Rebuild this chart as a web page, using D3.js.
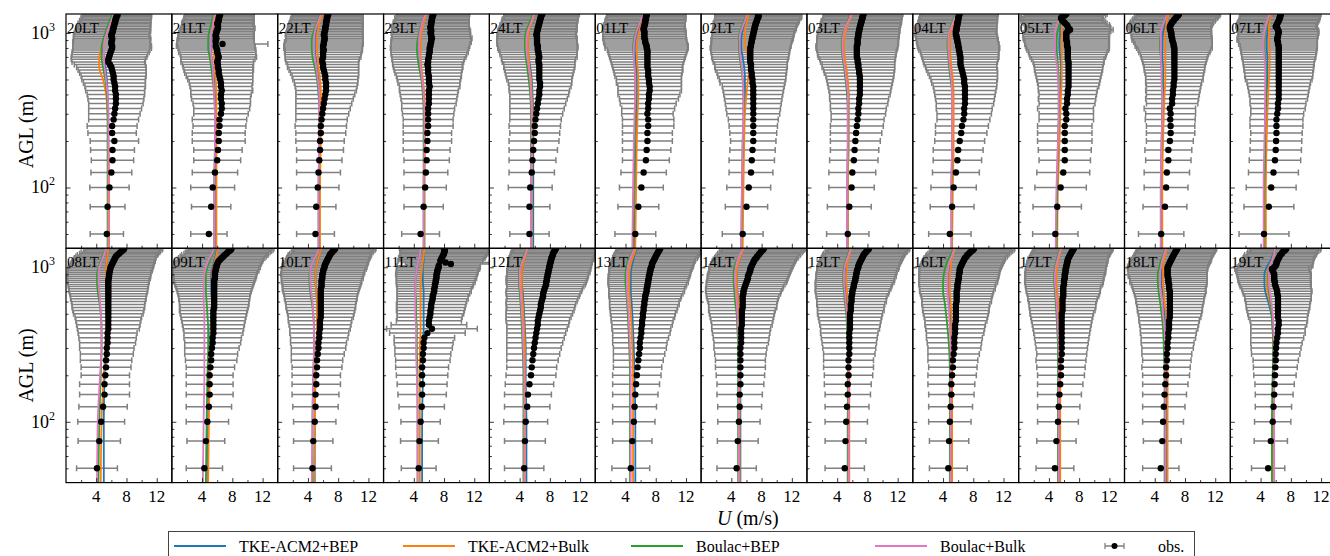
<!DOCTYPE html>
<html>
<head>
<meta charset="utf-8">
<script src="https://cdn.jsdelivr.net/npm/d3@7"></script>
<style>
body { margin: 0; background: #fff; }
svg text { font-family: "Liberation Serif", "Times New Roman", serif; fill: #000; }
</style>
</head>
<body>
<svg id="chart" width="1330" height="556"></svg>
<script>
// panel titles (local time)
let hours = ["20LT","21LT","22LT","23LT","24LT","01LT","02LT","03LT","04LT","05LT","06LT","07LT",
             "08LT","09LT","10LT","11LT","12LT","13LT","14LT","15LT","16LT","17LT","18LT","19LT"]

// observation levels (m AGL)
let obsHeights = [50,75,100,125,150,175,200,225,250,275,300,325,350,375,400,425,450,475,500,525,
                  550,575,600,625,650,675,700,725,750,775,800,825,850,875,900,925,950,975,1000,1025,
                  1050,1075,1100,1125,1150,1175,1200,1225,1250,1275,1300,1325]

// observed mean wind speed (m/s), one row per panel
let obsMean = [
 [5.4,5.5,5.75,6.0,6.15,6.15,6.4,6.1,6.1,6.3, 6.4,6.5,6.6,6.6,6.6,6.5,6.5,6.4,6.3,6.3, 6.2,6.1,6.0,5.8,5.6,5.6,5.7,5.8,5.9,6.0, 6.1,6.1,6.0,6.0,6.1,6.1,6.0,6.0,6.1,6.2, 6.2,6.3,6.3,6.4,6.4,6.5,6.5,6.6,6.6,6.7, 6.8,6.8],
 [4.9,5.2,5.4,5.7,6.0,6.1,6.2,6.2,6.3,6.3, 6.5,6.6,6.6,6.5,6.5,6.6,6.5,6.5,6.4,6.3, 6.2,6.2,6.1,6.1,6.0,6.1,6.2,6.1,6.0,6.0, 5.9,5.8,6.7,5.8,5.8,5.9,5.8,5.8,5.9,5.9, 6.0,6.1,6.1,6.1,6.0,6.1,6.2,6.2,6.2,6.3, 6.3,6.4],
 [5.0,5.1,5.3,5.4,5.5,5.6,5.6,5.7,5.7,5.8, 5.9,6.0,6.1,6.2,6.3,6.4,6.4,6.4,6.3,6.3, 6.2,6.1,6.0,6.0,5.9,5.9,6.0,6.0,6.0,6.1, 6.0,6.0,6.1,6.1,6.2,6.2,6.2,6.1,6.2,6.2, 6.3,6.3,6.3,6.4,6.4,6.4,6.5,6.5,6.5,6.6, 6.6,6.7],
 [4.9,5.3,5.5,5.6,5.7,5.7,5.8,5.8,5.9,5.9, 5.9,5.9,6.0,6.0,6.0,6.0,6.1,6.0,6.0,6.0, 5.9,5.9,5.9,5.8,5.9,5.9,6.0,6.0,6.1,6.1, 6.1,6.2,6.2,6.3,6.3,6.4,6.3,6.3,6.2,6.3, 6.3,6.2,6.2,6.3,6.3,6.3,6.4,6.4,6.4,6.5, 6.5,6.6],
 [5.3,5.3,5.4,5.6,5.7,5.8,5.9,6.0,6.0,6.1, 6.2,6.3,6.4,6.5,6.6,6.6,6.7,6.7,6.6,6.6, 6.6,6.6,6.6,6.6,6.5,6.5,6.6,6.5,6.5,6.4, 6.4,6.4,6.3,6.3,6.3,6.3,6.3,6.2,6.3,6.3, 6.4,6.4,6.5,6.5,6.6,6.6,6.7,6.7,6.8,6.8, 6.9,7.0],
 [5.3,5.7,6.1,6.4,6.7,6.8,6.9,6.9,7.0,7.0, 6.9,7.0,7.0,7.1,7.1,7.2,7.2,7.1,7.1,7.0, 7.0,7.0,6.9,6.9,6.9,6.9,6.9,6.9,6.9,6.9, 6.8,6.8,6.7,6.6,6.6,6.5,6.5,6.5,6.5,6.5, 6.4,6.4,6.5,6.5,6.6,6.6,6.6,6.7,6.7,6.7, 6.8,6.8],
 [5.5,6.0,6.3,6.6,6.7,6.8,6.9,6.9,6.9,6.9, 6.9,6.9,6.9,6.9,6.9,6.9,6.9,6.8,6.8,6.7, 6.7,6.6,6.6,6.6,6.5,6.5,6.5,6.5,6.5,6.5, 6.5,6.6,6.6,6.7,6.7,6.8,6.8,6.9,6.9,7.0, 7.0,7.1,7.1,7.2,7.2,7.3,7.4,7.4,7.5,7.6, 7.6,7.5],
 [5.4,5.6,5.9,6.0,6.2,6.3,6.4,6.5,6.6,6.7, 6.8,6.8,6.9,6.9,7.0,7.0,7.0,7.0,7.0,7.0, 6.9,6.9,6.8,6.8,6.7,6.7,6.6,6.6,6.6,6.6, 6.6,6.6,6.7,6.7,6.7,6.7,6.8,6.8,6.8,6.9, 6.9,7.0,7.0,7.1,7.1,7.2,7.2,7.3,7.3,7.4, 7.4,7.5],
 [4.9,5.2,5.4,5.7,5.9,6.0,6.2,6.4,6.5,6.7, 6.8,6.8,6.9,6.9,6.9,6.9,6.9,6.8,6.8,6.7, 6.6,6.5,6.4,6.3,6.3,6.3,6.3,6.2,6.2,6.1, 6.1,6.0,6.0,5.9,5.9,5.8,5.8,5.7,5.7,5.7, 5.8,5.8,5.8,5.9,5.9,5.9,6.0,6.0,6.0,6.1, 6.1,6.2],
 [4.85,5.1,5.55,5.9,6.1,6.1,6.1,6.1,6.1,6.3, 6.3,6.2,6.4,6.4,6.5,6.5,6.6,6.6,6.6,6.6, 6.6,6.6,6.6,6.6,6.6,6.5,6.5,6.5,6.5,6.5, 6.5,6.4,6.4,6.4,6.3,6.3,6.3,6.3,6.3,6.5, 6.8,6.6,6.5,6.4,6.2,6.0,5.8,5.7,5.6,5.8, 6.1,6.3],
 [4.85,5.35,5.5,5.6,5.8,5.8,6.0,6.1,6.1,6.05, 6.1,6.0,6.3,6.3,6.4,6.4,6.5,6.5,6.6,6.6, 6.6,6.6,6.6,6.6,6.6,6.6,6.6,6.6,6.6,6.6, 6.6,6.5,6.5,6.4,6.3,6.3,6.2,6.2,6.2,6.1, 6.1,6.0,6.0,6.1,6.2,6.3,6.5,6.6,6.8,6.9, 7.1,7.2],
 [4.45,5.1,5.4,5.7,5.9,6.0,6.05,6.1,6.1,6.1, 6.2,6.3,6.3,6.4,6.4,6.4,6.4,6.4,6.4,6.4, 6.4,6.4,6.4,6.4,6.4,6.4,6.4,6.4,6.4,6.4, 6.4,6.4,6.3,6.3,6.2,6.2,6.3,6.3,6.4,6.4, 6.3,6.2,6.0,6.1,6.2,6.3,6.4,6.5,6.5,6.6, 6.6,6.7],
 [4.1,4.4,4.65,4.9,5.1,5.1,5.2,5.3,5.3,5.4, 5.4,5.5,5.5,5.5,5.6,5.6,5.6,5.6,5.6,5.6, 5.6,5.6,5.6,5.6,5.6,5.6,5.6,5.6,5.6,5.6, 5.6,5.6,5.65,5.7,5.7,5.75,5.8,5.85,5.9,6.0, 6.1,6.2,6.3,6.4,6.5,6.6,6.8,7.0,7.2,7.4, 7.6,7.7],
 [4.3,4.5,4.7,4.9,5.0,5.0,5.0,5.1,5.2,5.2, 5.3,5.4,5.4,5.5,5.5,5.5,5.5,5.5,5.5,5.5, 5.6,5.6,5.6,5.6,5.6,5.6,5.6,5.6,5.6,5.6, 5.6,5.6,5.7,5.7,5.7,5.7,5.8,5.8,5.9,5.9, 6.0,6.1,6.2,6.4,6.6,6.8,7.0,7.2,7.4,7.6, 7.8,7.9],
 [4.6,4.7,4.9,5.0,5.0,5.1,5.1,5.2,5.2,5.3, 5.4,5.4,5.5,5.5,5.6,5.6,5.6,5.7,5.7,5.7, 5.7,5.7,5.7,5.7,5.7,5.7,5.7,5.7,5.8,5.8, 5.8,5.8,5.9,5.9,5.9,6.0,6.0,6.1,6.2,6.2, 6.3,6.4,6.5,6.6,6.7,6.8,6.9,7.0,7.2,7.3, 7.5,7.6],
 [4.65,4.75,4.9,5.05,5.1,5.1,5.1,5.1,5.2,5.2, 5.3,5.3,5.4,5.8,6.4,6.0,6.0,6.1,6.2,6.2, 6.3,6.3,6.4,6.5,6.5,6.6,6.7,6.7,6.8,6.8, 6.9,6.9,7.0,7.0,7.0,7.1,7.1,7.2,7.3,7.3, 8.9,8.2,7.5,7.6,7.7,7.8,7.9,8.0,8.0,8.1, 8.1,8.0],
 [4.6,4.7,4.8,5.0,5.1,5.3,5.5,5.6,5.7,5.8, 5.9,6.0,6.1,6.2,6.3,6.4,6.4,6.5,6.6,6.7, 6.8,6.8,6.9,7.0,7.1,7.1,7.2,7.3,7.4,7.5, 7.5,7.6,7.6,7.7,7.7,7.8,7.8,7.9,7.9,8.0, 8.0,8.1,8.1,8.2,8.2,8.3,8.4,8.4,8.5,8.6, 8.7,8.8],
 [4.7,4.9,5.1,5.2,5.3,5.4,5.5,5.6,5.7,5.8, 5.9,5.9,6.0,6.1,6.1,6.2,6.2,6.3,6.3,6.4, 6.4,6.5,6.5,6.6,6.6,6.7,6.8,6.8,6.9,6.9, 7.0,7.0,7.1,7.1,7.2,7.2,7.3,7.3,7.4,7.5, 7.5,7.6,7.7,7.8,7.9,8.0,8.1,8.2,8.3,8.4, 8.5,8.6],
 [4.7,4.85,5.0,5.1,5.1,5.2,5.2,5.2,5.2,5.2, 5.2,5.3,5.3,5.3,5.3,5.4,5.4,5.4,5.4,5.4, 5.5,5.5,5.5,5.5,5.5,5.6,5.6,5.7,5.8,5.9, 6.0,6.1,6.2,6.2,6.3,6.4,6.5,6.5,6.6,6.7, 6.8,6.9,7.0,7.1,7.3,7.4,7.6,7.7,7.9,8.0, 8.2,8.3],
 [5.0,5.1,5.2,5.3,5.4,5.4,5.5,5.5,5.5,5.6, 5.6,5.6,5.6,5.6,5.7,5.7,5.7,5.7,5.7,5.8, 5.8,5.8,5.9,5.9,5.9,6.0,6.0,6.1,6.2,6.2, 6.3,6.4,6.4,6.5,6.5,6.6,6.6,6.7,6.8,6.8, 6.9,7.0,7.1,7.2,7.3,7.4,7.5,7.6,7.8,7.9, 8.1,8.2],
 [4.7,4.8,4.9,5.0,5.1,5.1,5.2,5.3,5.3,5.4, 5.5,5.5,5.5,5.6,5.6,5.6,5.7,5.7,5.7,5.7, 5.7,5.7,5.8,5.8,5.8,5.8,5.8,5.9,5.9,5.9, 6.0,6.0,6.1,6.1,6.1,6.2,6.2,6.2,6.3,6.4, 6.5,6.6,6.7,6.8,6.9,7.1,7.2,7.4,7.6,7.8, 8.0,8.1],
 [4.8,5.0,5.2,5.3,5.4,5.5,5.6,5.6,5.6,5.7, 5.7,5.7,5.7,5.7,5.7,5.7,5.7,5.7,5.7,5.8, 5.8,5.8,5.8,5.8,5.9,5.9,5.9,5.9,5.9,6.0, 6.0,6.0,6.1,6.1,6.1,6.2,6.2,6.2,6.3,6.3, 6.4,6.4,6.5,6.5,6.6,6.7,6.8,6.9,7.0,7.1, 7.2,7.3],
 [4.8,5.0,5.1,5.2,5.3,5.4,5.5,5.5,5.6,5.6, 5.7,5.7,5.8,5.8,5.9,5.9,5.9,6.0,6.0,6.0, 6.0,6.0,6.0,6.0,6.0,6.0,6.0,5.9,5.9,5.9, 5.8,5.8,5.8,5.7,5.7,5.7,5.7,5.7,5.7,5.8, 5.9,6.0,6.1,6.2,6.3,6.4,6.5,6.6,6.7,6.8, 6.9,7.0],
 [5.0,5.35,5.6,5.7,5.8,5.85,5.9,5.95,6.0,6.0, 6.05,6.1,6.2,6.3,6.3,6.4,6.4,6.3,6.3,6.3, 6.3,6.3,6.3,6.3,6.3,6.2,6.2,6.1,6.0,5.9, 5.9,5.8,5.8,5.8,5.8,5.7,5.6,5.5,5.8,6.0, 6.1,6.1,6.2,6.3,6.4,6.5,6.6,6.8,6.9,7.1, 7.3,7.4]
]

// observed standard deviation (m/s), half width of the error bars
let obsStd = [
 [2.2,2.3,2.6,2.7,2.8,2.9,3.2,3.2,3.3,3.3, 3.4,3.5,3.6,3.7,3.8,3.9,4.0,4.1,4.2,4.3, 4.4,4.5,4.6,4.7,4.8,4.9,5.0,5.0,5.1,5.1, 5.2,5.2,5.1,5.1,5.1,5.1,5.0,5.0,5.0,5.0, 4.9,4.9,4.8,4.8,4.8,4.7,4.7,4.6,4.6,4.6, 4.5,4.5],
 [2.4,2.6,2.9,3.0,3.1,3.2,3.5,3.5,3.5,3.6, 3.6,3.7,3.8,3.9,4.0,4.1,4.1,4.2,4.3,4.4, 4.5,4.6,4.6,4.7,4.8,4.9,5.0,5.0,5.1,5.1, 5.1,5.2,6.0,5.1,5.1,5.0,5.0,5.0,5.0,4.9, 4.9,4.9,4.8,4.8,4.7,4.7,4.7,4.6,4.6,4.6, 4.5,4.5],
 [2.5,2.6,2.8,2.9,3.0,3.1,3.2,3.3,3.4,3.4, 3.5,3.6,3.7,3.8,3.9,4.0,4.1,4.2,4.3,4.4, 4.5,4.6,4.7,4.7,4.8,4.9,5.0,5.0,5.1,5.1, 5.2,5.2,5.2,5.2,5.1,5.1,5.1,5.1,5.1,5.0, 5.0,5.0,4.9,4.9,4.9,4.8,4.8,4.8,4.7,4.7, 4.6,4.6],
 [2.5,2.6,2.8,2.9,3.0,3.1,3.2,3.2,3.3,3.3, 3.4,3.5,3.6,3.7,3.8,3.9,4.0,4.1,4.2,4.3, 4.4,4.5,4.6,4.6,4.7,4.8,4.9,5.0,5.1,5.1, 5.2,5.2,5.2,5.3,5.3,5.3,5.2,5.2,5.2,5.2, 5.1,5.1,5.1,5.0,5.0,5.0,4.9,4.9,4.9,4.8, 4.8,4.8],
 [2.6,2.7,2.9,3.0,3.1,3.2,3.3,3.3,3.4,3.4, 3.5,3.6,3.7,3.8,3.9,4.0,4.1,4.2,4.3,4.4, 4.5,4.6,4.7,4.7,4.8,4.9,5.0,5.1,5.1,5.2, 5.3,5.3,5.3,5.3,5.3,5.3,5.2,5.2,5.2,5.2, 5.2,5.1,5.1,5.1,5.0,5.0,5.0,5.0,4.9,4.9, 4.9,4.9],
 [2.7,2.7,2.9,3.0,3.1,3.2,3.3,3.3,3.4,3.4, 3.4,3.5,3.7,3.9,4.1,4.2,4.2,4.3,4.3,4.4, 4.5,4.6,4.6,4.7,4.8,4.9,5.0,5.1,5.2,5.3, 5.5,5.5,5.5,5.5,5.5,5.5,5.5,5.5,5.5,5.5, 5.4,5.4,5.4,5.4,5.3,5.3,5.3,5.3,5.2,5.2, 5.2,5.2],
 [2.7,2.8,2.9,2.9,3.0,3.0,3.0,3.1,3.2,3.3, 3.5,3.6,3.7,3.8,3.9,4.0,4.1,4.3,4.4,4.5, 4.6,4.7,4.8,4.8,4.9,5.0,5.1,5.1,5.2,5.2, 5.3,5.3,5.3,5.3,5.4,5.4,5.4,5.4,5.4,5.4, 5.5,5.5,5.5,5.5,5.6,5.6,5.6,5.6,5.7,5.7, 5.7,5.7],
 [2.8,2.9,3.0,3.1,3.2,3.2,3.3,3.4,3.5,3.5, 3.6,3.7,3.8,3.9,4.0,4.1,4.2,4.3,4.4,4.5, 4.6,4.7,4.8,4.8,4.9,5.0,5.1,5.2,5.2,5.3, 5.4,5.4,5.4,5.4,5.4,5.4,5.4,5.4,5.4,5.4, 5.3,5.3,5.3,5.3,5.3,5.3,5.3,5.2,5.2,5.2, 5.2,5.2],
 [2.8,2.9,3.0,3.1,3.2,3.3,3.3,3.4,3.5,3.5, 3.6,3.7,3.8,3.9,4.0,4.1,4.2,4.3,4.4,4.5, 4.6,4.7,4.7,4.8,4.9,5.0,5.1,5.1,5.2,5.3, 5.4,5.4,5.4,5.4,5.4,5.4,5.4,5.4,5.4,5.3, 5.3,5.3,5.3,5.2,5.2,5.2,5.2,5.2,5.1,5.1, 5.1,5.1],
 [3.0,3.2,3.4,3.5,3.4,3.5,3.6,3.6,3.6,3.6, 3.6,3.7,3.7,3.8,3.8,3.9,4.0,4.1,4.2,4.3, 4.4,4.5,4.5,4.6,4.7,4.8,5.0,5.1,5.2,5.4, 5.5,5.5,5.6,5.6,5.6,5.7,5.7,5.7,5.7,5.7, 5.7,5.6,5.6,5.6,5.5,5.5,5.5,5.4,5.4,5.4, 5.4,5.4],
 [3.0,2.9,2.9,3.0,3.0,3.1,3.1,3.2,3.2,3.3, 3.3,3.4,3.4,3.5,3.5,3.6,3.6,3.7,3.8,3.8, 3.9,4.0,4.0,4.1,4.2,4.3,4.4,4.5,4.7,4.8, 5.0,5.1,5.1,5.2,5.3,5.3,5.3,5.3,5.3,5.4, 5.4,5.4,5.5,5.5,5.5,5.5,5.5,5.5,5.5,5.5, 5.5,5.5],
 [3.3,3.3,3.3,3.3,3.4,3.4,3.4,3.4,3.5,3.5, 3.5,3.6,3.7,3.8,3.9,4.0,4.1,4.2,4.4,4.5, 4.5,4.6,4.6,4.7,4.7,4.8,4.9,4.9,5.0,5.0, 5.1,5.1,5.2,5.2,5.3,5.3,5.3,5.3,5.3,5.3, 5.3,5.3,5.3,5.3,5.3,5.3,5.3,5.3,5.3,5.3, 5.3,5.3],
 [2.7,2.8,3.1,3.2,3.3,3.3,3.2,3.3,3.4,3.5, 3.6,3.7,3.8,3.9,4.1,4.2,4.3,4.4,4.6,4.7, 4.8,4.8,4.9,5.0,5.0,5.1,5.2,5.2,5.3,5.3, 5.4,5.4,5.5,5.5,5.5,5.5,5.6,5.6,5.6,5.6, 5.5,5.5,5.5,5.4,5.4,5.3,5.3,5.2,5.2,5.1, 5.1,5.1],
 [2.4,2.5,2.8,3.0,3.1,3.1,3.1,3.2,3.4,3.5, 3.6,3.7,3.8,3.9,4.0,4.1,4.2,4.3,4.4,4.5, 4.5,4.6,4.6,4.7,4.7,4.8,4.9,5.0,5.1,5.2, 5.3,5.4,5.4,5.5,5.5,5.6,5.7,5.7,5.8,5.8, 5.8,5.8,5.8,5.7,5.7,5.7,5.7,5.6,5.6,5.6, 5.6,5.6],
 [2.5,2.6,2.8,3.0,3.1,3.2,3.2,3.3,3.4,3.5, 3.6,3.7,3.8,3.9,4.0,4.1,4.2,4.3,4.4,4.5, 4.6,4.6,4.7,4.8,4.8,4.9,5.0,5.1,5.1,5.2, 5.3,5.3,5.4,5.4,5.5,5.5,5.5,5.6,5.6,5.6, 5.6,5.6,5.5,5.5,5.5,5.5,5.5,5.4,5.4,5.4, 5.4,5.4],
 [2.3,2.5,2.6,3.0,3.2,3.3,3.4,3.5,3.6,3.7, 3.8,3.9,4.0,5.0,6.0,5.0,4.3,4.3,4.4,4.5, 4.5,4.6,4.6,4.7,4.7,4.8,4.9,4.9,5.0,5.1, 5.2,5.2,5.3,5.3,5.4,5.4,5.4,5.5,5.5,5.5, 6.0,5.8,5.6,5.6,5.7,5.7,5.7,5.8,5.8,5.8, 5.9,5.9],
 [2.6,2.7,2.9,3.0,3.1,3.2,3.3,3.3,3.4,3.5, 3.6,3.7,3.8,3.9,4.0,4.1,4.2,4.3,4.4,4.5, 4.5,4.6,4.7,4.7,4.8,4.9,5.0,5.0,5.1,5.2, 5.3,5.3,5.4,5.4,5.4,5.5,5.5,5.5,5.5,5.5, 5.5,5.5,5.5,5.6,5.6,5.6,5.6,5.6,5.6,5.6, 5.6,5.6],
 [2.5,2.6,2.8,2.9,3.0,3.1,3.2,3.2,3.3,3.4, 3.5,3.6,3.7,3.8,3.9,4.0,4.1,4.2,4.3,4.4, 4.5,4.6,4.6,4.7,4.8,4.9,5.0,5.0,5.1,5.2, 5.3,5.3,5.3,5.4,5.4,5.4,5.4,5.5,5.5,5.5, 5.5,5.5,5.5,5.5,5.6,5.6,5.6,5.6,5.6,5.6, 5.6,5.6],
 [2.6,2.7,2.8,2.9,3.0,3.1,3.2,3.3,3.3,3.4, 3.5,3.6,3.7,3.8,3.9,4.0,4.1,4.2,4.3,4.4, 4.5,4.5,4.6,4.7,4.8,4.9,5.0,5.1,5.1,5.2, 5.3,5.3,5.3,5.4,5.4,5.4,5.4,5.5,5.5,5.5, 5.5,5.5,5.5,5.5,5.5,5.5,5.5,5.5,5.5,5.5, 5.5,5.5],
 [2.6,2.7,2.8,2.9,3.0,3.1,3.2,3.3,3.3,3.4, 3.5,3.6,3.7,3.8,3.9,4.0,4.1,4.2,4.3,4.4, 4.4,4.5,4.6,4.6,4.7,4.8,4.9,5.0,5.0,5.1, 5.2,5.2,5.2,5.3,5.3,5.3,5.3,5.4,5.4,5.4, 5.4,5.4,5.4,5.4,5.4,5.4,5.4,5.4,5.4,5.4, 5.4,5.4],
 [2.5,2.6,2.8,2.9,3.0,3.1,3.2,3.2,3.3,3.4, 3.5,3.6,3.7,3.8,3.9,4.0,4.1,4.2,4.3,4.4, 4.4,4.5,4.6,4.6,4.7,4.8,4.9,5.0,5.0,5.1, 5.2,5.2,5.2,5.3,5.3,5.3,5.3,5.4,5.4,5.4, 5.4,5.4,5.4,5.4,5.4,5.4,5.4,5.4,5.4,5.4, 5.4,5.4],
 [2.5,2.6,2.7,2.8,2.9,3.0,3.1,3.2,3.3,3.3, 3.4,3.5,3.6,3.7,3.8,3.9,4.0,4.1,4.2,4.3, 4.4,4.4,4.5,4.6,4.7,4.8,4.9,4.9,5.0,5.1, 5.2,5.2,5.2,5.2,5.3,5.3,5.3,5.3,5.3,5.3, 5.3,5.3,5.3,5.3,5.2,5.2,5.2,5.2,5.2,5.2, 5.2,5.2],
 [2.4,2.5,2.7,2.8,2.9,3.0,3.1,3.2,3.2,3.3, 3.4,3.5,3.6,3.7,3.8,3.9,4.0,4.1,4.2,4.3, 4.3,4.4,4.5,4.5,4.6,4.7,4.8,4.8,4.9,5.0, 5.1,5.1,5.1,5.2,5.2,5.2,5.2,5.3,5.3,5.3, 5.3,5.3,5.3,5.3,5.2,5.2,5.2,5.2,5.2,5.2, 5.2,5.2],
 [2.2,2.2,2.4,2.4,2.5,2.6,2.8,2.9,3.0,3.2, 3.3,3.4,3.5,3.6,3.6,3.7,3.8,3.9,4.0,4.1, 4.2,4.2,4.3,4.4,4.4,4.5,4.6,4.6,4.7,4.7, 4.8,4.8,4.8,4.9,4.9,4.9,4.9,4.9,4.9,4.9, 4.8,4.8,4.8,4.7,4.7,4.7,4.7,4.6,4.6,4.6, 4.6,4.6]
]

// model output levels (m AGL)
let modelHeights = [40,100,200,300,400,500,600,700,800,900,1000,1100,1200,1330]

// simulated wind speed (m/s), one row per panel
let tkeBep = [
 [5.6,5.6,5.6,5.6,5.5,5.4,5.2,5.0,4.9,5.0,5.3,5.6,5.9,6.2],
 [5.7,5.7,5.8,5.8,5.7,5.6,5.4,5.2,5.1,5.1,5.2,5.4,5.5,5.7],
 [5.5,5.5,5.6,5.6,5.5,5.4,5.2,5.0,4.9,4.9,5.0,5.2,5.5,5.8],
 [5.4,5.4,5.4,5.4,5.3,5.1,4.9,4.8,4.7,4.7,4.8,5.0,5.2,5.6],
 [5.8,5.8,5.8,5.8,5.7,5.6,5.4,5.2,5.1,5.1,5.2,5.4,5.7,6.0],
 [5.2,5.3,5.4,5.5,5.5,5.5,5.4,5.3,5.2,5.3,5.5,5.8,6.1,6.5],
 [5.4,5.5,5.6,5.7,5.8,5.8,5.7,5.5,5.3,5.3,5.4,5.6,5.9,6.2],
 [5.4,5.4,5.5,5.5,5.5,5.3,5.1,4.9,4.8,4.8,4.9,5.2,5.5,5.9],
 [5.2,5.2,5.3,5.3,5.3,5.2,5.0,4.9,4.8,4.8,4.9,5.1,5.4,5.8],
 [5.0,5.1,5.3,5.4,5.5,5.6,5.6,5.5,5.4,5.4,5.5,5.5,5.6,5.7],
 [4.9,4.9,5.0,5.0,5.1,5.1,5.1,5.0,5.0,5.0,5.1,5.3,5.5,5.8],
 [4.6,4.6,4.7,4.7,4.8,4.9,4.9,4.9,4.8,4.8,4.9,5.0,5.1,5.3],
 [5.0,5.0,5.1,5.3,5.4,5.4,5.4,5.4,5.3,5.3,5.3,5.4,5.5,5.7],
 [4.7,4.8,4.9,5.0,5.1,5.2,5.3,5.2,5.2,5.2,5.4,5.6,5.8,6.0],
 [4.9,4.9,5.0,5.1,5.2,5.2,5.2,5.1,5.0,5.0,5.1,5.3,5.5,5.8],
 [5.1,5.1,5.2,5.2,5.3,5.3,5.3,5.3,5.2,5.2,5.2,5.3,5.3,5.4],
 [4.9,4.9,4.8,4.8,4.7,4.6,4.5,4.4,4.3,4.3,4.4,4.6,4.8,5.1],
 [5.3,5.3,5.2,5.1,5.0,4.9,4.8,4.7,4.7,4.7,4.8,5.0,5.2,5.5],
 [5.2,5.2,5.2,5.2,5.1,5.0,4.9,4.8,4.7,4.7,4.8,5.0,5.3,5.7],
 [5.4,5.4,5.5,5.5,5.4,5.3,5.2,5.1,5.0,5.0,5.1,5.3,5.5,5.8],
 [5.1,5.1,5.1,5.1,5.1,5.0,4.9,4.8,4.8,4.8,4.9,5.0,5.2,5.5],
 [5.4,5.4,5.4,5.4,5.3,5.2,5.1,5.0,4.9,4.9,5.0,5.1,5.3,5.6],
 [5.5,5.5,5.5,5.5,5.4,5.3,5.1,5.0,4.9,4.9,5.0,5.1,5.3,5.6],
 [5.6,5.6,5.7,5.7,5.6,5.4,5.0,4.6,4.5,4.5,4.8,5.3,5.6,5.9]
]
let tkeBulk = [
 [5.7,5.7,5.6,5.5,5.3,4.9,4.4,4.4,4.7,5.0,5.3,5.6,5.9,6.3],
 [5.9,5.9,5.9,5.9,5.9,5.8,5.7,5.6,5.6,5.6,5.6,5.6,5.7,5.8],
 [5.6,5.6,5.7,5.7,5.7,5.6,5.4,5.3,5.2,5.2,5.3,5.4,5.6,5.9],
 [5.4,5.4,5.5,5.5,5.4,5.2,5.0,4.9,4.9,4.9,5.0,5.2,5.4,5.7],
 [5.6,5.6,5.7,5.7,5.6,5.5,5.3,5.2,5.1,5.1,5.2,5.4,5.7,6.0],
 [5.3,5.4,5.5,5.6,5.7,5.7,5.6,5.5,5.5,5.6,5.8,6.0,6.3,6.6],
 [5.5,5.6,5.7,5.8,6.0,6.2,6.4,6.2,5.9,5.8,5.8,5.9,6.1,6.3],
 [5.4,5.4,5.5,5.5,5.5,5.4,5.2,5.0,4.9,4.9,5.1,5.3,5.6,6.0],
 [5.2,5.3,5.4,5.4,5.4,5.3,5.1,5.0,4.9,4.9,5.0,5.2,5.5,5.9],
 [5.1,5.2,5.4,5.5,5.6,5.7,5.7,5.7,5.7,5.7,5.7,5.7,5.7,5.8],
 [5.0,5.0,5.1,5.2,5.3,5.4,5.4,5.4,5.4,5.4,5.4,5.5,5.6,5.9],
 [4.7,4.7,4.8,4.9,5.0,5.1,5.2,5.2,5.2,5.1,5.1,5.1,5.2,5.4],
 [4.6,4.7,5.0,5.2,5.3,5.4,5.4,5.4,5.3,5.3,5.3,5.4,5.5,5.6],
 [4.8,4.9,5.0,5.1,5.2,5.3,5.3,5.3,5.3,5.3,5.5,5.7,5.9,6.1],
 [4.8,4.9,5.0,5.1,5.2,5.2,5.2,5.1,5.0,5.0,5.1,5.3,5.5,5.8],
 [4.8,4.8,4.8,4.8,4.9,4.9,4.9,4.9,4.9,5.0,5.1,5.2,5.3,5.4],
 [4.7,4.7,4.7,4.7,4.6,4.5,4.4,4.3,4.3,4.3,4.4,4.6,4.8,5.1],
 [5.0,5.0,5.0,4.9,4.8,4.7,4.6,4.5,4.5,4.5,4.6,4.8,5.1,5.4],
 [5.1,5.1,5.1,5.1,5.1,5.0,4.9,4.8,4.7,4.7,4.8,5.0,5.3,5.7],
 [5.6,5.6,5.6,5.6,5.6,5.5,5.4,5.3,5.2,5.2,5.3,5.4,5.6,5.9],
 [5.2,5.2,5.2,5.2,5.2,5.1,5.0,4.9,4.9,4.9,5.0,5.1,5.3,5.6],
 [5.5,5.5,5.5,5.5,5.4,5.3,5.2,5.1,5.0,5.0,5.1,5.2,5.4,5.7],
 [5.7,5.7,5.7,5.7,5.6,5.5,5.3,5.2,5.1,5.1,5.1,5.2,5.4,5.6],
 [5.6,5.6,5.7,5.7,5.6,5.5,5.2,4.9,4.8,4.9,5.1,5.5,5.7,5.9]
]
let boulacBep = [
 [5.5,5.5,5.5,5.5,5.4,5.2,4.9,4.7,4.7,4.9,5.2,5.5,5.8,6.1],
 [5.6,5.6,5.7,5.7,5.6,5.4,5.2,5.0,4.8,4.8,4.9,5.1,5.3,5.5],
 [5.4,5.4,5.5,5.5,5.4,5.2,4.9,4.6,4.5,4.5,4.7,5.0,5.3,5.6],
 [5.3,5.3,5.3,5.3,5.2,5.0,4.7,4.5,4.4,4.5,4.7,4.9,5.2,5.5],
 [5.5,5.5,5.5,5.5,5.4,5.2,5.0,4.8,4.7,4.7,4.8,5.1,5.4,5.8],
 [5.0,5.1,5.2,5.3,5.3,5.3,5.2,5.1,5.0,5.1,5.3,5.6,6.0,6.4],
 [5.3,5.4,5.5,5.6,5.6,5.5,5.3,5.1,5.0,5.0,5.1,5.4,5.7,6.1],
 [5.3,5.3,5.4,5.4,5.3,5.1,4.9,4.7,4.6,4.6,4.8,5.1,5.4,5.8],
 [5.1,5.1,5.2,5.2,5.2,5.0,4.8,4.7,4.6,4.6,4.8,5.0,5.3,5.7],
 [5.0,5.1,5.2,5.3,5.3,5.3,5.2,5.1,5.0,5.0,5.1,5.3,5.5,5.6],
 [4.8,4.8,4.9,5.0,5.0,5.0,4.9,4.8,4.7,4.7,4.8,5.0,5.3,5.7],
 [4.5,4.5,4.6,4.6,4.7,4.7,4.7,4.6,4.5,4.5,4.6,4.8,5.0,5.2],
 [4.3,4.4,4.6,4.7,4.7,4.6,4.4,4.2,4.1,4.1,4.3,4.6,4.9,5.3],
 [4.5,4.6,4.7,4.8,4.8,4.7,4.6,4.5,4.5,4.5,4.7,5.0,5.3,5.7],
 [4.6,4.6,4.7,4.8,4.8,4.7,4.5,4.3,4.2,4.2,4.4,4.7,5.1,5.5],
 [4.5,4.5,4.5,4.4,4.4,4.3,4.3,4.2,4.2,4.3,4.4,4.6,4.8,5.0],
 [4.5,4.5,4.5,4.4,4.3,4.2,4.1,4.0,3.9,3.9,4.0,4.3,4.6,5.0],
 [4.6,4.6,4.6,4.5,4.4,4.3,4.2,4.1,4.0,4.0,4.1,4.3,4.7,5.1],
 [4.9,4.9,4.9,4.9,4.8,4.7,4.5,4.4,4.3,4.3,4.4,4.7,5.1,5.5],
 [5.4,5.4,5.4,5.4,5.3,5.2,5.0,4.9,4.8,4.8,4.9,5.1,5.4,5.7],
 [4.9,4.9,4.9,4.8,4.6,4.4,4.2,4.0,4.0,4.1,4.3,4.6,5.0,5.4],
 [5.2,5.2,5.2,5.2,5.1,5.0,4.9,4.8,4.7,4.7,4.8,5.0,5.2,5.5],
 [5.3,5.3,5.3,5.2,5.1,4.9,4.7,4.5,4.4,4.4,4.6,4.8,5.1,5.4],
 [5.5,5.5,5.6,5.7,5.6,5.5,5.3,5.1,5.0,5.0,5.2,5.5,5.8,5.9]
]
let boulacBulk = [
 [5.6,5.6,5.6,5.6,5.5,5.3,5.1,5.0,5.0,5.1,5.4,5.7,6.0,6.3],
 [5.6,5.6,5.7,5.7,5.6,5.5,5.4,5.2,5.1,5.1,5.2,5.4,5.5,5.7],
 [5.4,5.4,5.5,5.5,5.5,5.3,5.1,4.9,4.8,4.8,4.9,5.1,5.4,5.7],
 [5.3,5.3,5.4,5.4,5.3,5.1,4.9,4.8,4.7,4.7,4.8,5.0,5.2,5.6],
 [5.5,5.5,5.6,5.6,5.5,5.4,5.2,5.0,4.9,4.9,5.0,5.3,5.6,5.9],
 [4.9,5.0,5.1,5.2,5.3,5.3,5.2,5.1,5.1,5.2,5.4,5.7,6.0,6.4],
 [5.3,5.4,5.5,5.6,5.6,5.5,5.4,5.2,5.1,5.1,5.2,5.5,5.8,6.1],
 [5.3,5.3,5.4,5.4,5.4,5.2,5.0,4.8,4.7,4.7,4.9,5.1,5.5,5.9],
 [5.1,5.1,5.2,5.2,5.2,5.1,4.9,4.8,4.7,4.7,4.8,5.1,5.4,5.8],
 [4.9,5.0,5.2,5.3,5.3,5.2,5.1,4.9,4.8,4.8,4.8,5.0,5.3,5.6],
 [4.8,4.8,4.9,5.0,5.0,4.9,4.9,4.8,4.8,4.8,4.8,5.0,5.3,5.7],
 [4.4,4.4,4.5,4.6,4.6,4.6,4.6,4.5,4.4,4.4,4.5,4.7,4.9,5.2],
 [4.1,4.2,4.5,4.7,4.7,4.6,4.5,4.4,4.3,4.3,4.4,4.7,5.0,5.3],
 [4.1,4.2,4.3,4.3,4.3,4.3,4.2,4.2,4.2,4.3,4.5,4.8,5.2,5.6],
 [4.5,4.6,4.7,4.8,4.8,4.7,4.6,4.4,4.3,4.3,4.4,4.7,5.1,5.5],
 [4.5,4.5,4.4,4.3,4.3,4.2,4.2,4.2,4.2,4.3,4.4,4.6,4.8,4.9],
 [4.6,4.6,4.6,4.5,4.4,4.3,4.2,4.1,4.0,4.0,4.1,4.4,4.7,5.0],
 [4.7,4.7,4.7,4.6,4.5,4.4,4.3,4.2,4.2,4.2,4.3,4.5,4.8,5.2],
 [5.0,5.0,5.0,5.0,4.9,4.8,4.7,4.6,4.5,4.5,4.6,4.8,5.1,5.6],
 [5.5,5.5,5.5,5.5,5.4,5.3,5.1,5.0,4.9,4.9,5.0,5.2,5.5,5.8],
 [5.0,5.0,5.0,5.0,4.9,4.8,4.7,4.6,4.6,4.6,4.7,4.9,5.2,5.5],
 [5.3,5.3,5.3,5.3,5.2,5.1,5.0,4.9,4.8,4.8,4.9,5.1,5.3,5.6],
 [5.4,5.4,5.4,5.4,5.3,5.1,5.0,4.8,4.7,4.7,4.8,5.0,5.2,5.5],
 [5.8,5.8,5.8,5.8,5.7,5.6,5.4,5.2,5.1,5.1,5.2,5.5,5.8,5.9]
]

let seriesNames = ["TKE-ACM2+BEP","TKE-ACM2+Bulk","Boulac+BEP","Boulac+Bulk"]
let seriesColors = ["#1f77b4","#ff7f0e","#2ca02c","#e377c2"]
let seriesData = [tkeBep, tkeBulk, boulacBep, boulacBulk]

let xTicks = [4,8,12]
let xMinor = [2,6,10]
let yMajor = [100,1000]
let yMinor = [50,60,70,80,90,200,300,400,500,600,700,800,900]

// layout
let left0 = 66
let pw = 105.85
let ph = 234.3
let rowTop = [14, 248.3]

let svg = d3.select("#chart")
let x = d3.scaleLinear().domain([0, 14]).range([0, pw])
let y = d3.scaleLog().domain([40.4, 1327]).range([ph, 0])

let line = d3.line()
    .x(d => x(d[0]))
    .y(d => y(d[1]))
    .curve(d3.curveMonotoneY)

svg.append("defs").append("clipPath")
    .attr("id", "panelClip")
    .append("rect")
    .attr("width", pw)
    .attr("height", ph)

hours.forEach((h, i) => {
    let row = Math.floor(i / 12)
    let col = i % 12
    let g = svg.append("g")
        .attr("transform", `translate(${left0 + col * pw},${rowTop[row]})`)

    let inner = g.append("g").attr("clip-path", "url(#panelClip)")

    let obs = obsHeights.map((z, k) => ({ z: z, u: obsMean[i][k], s: obsStd[i][k] }))

    // error bars
    let bars = inner.append("g")
        .attr("stroke", "#808080")
        .attr("stroke-width", 1.5)
        .attr("fill", "none")
    bars.selectAll("path")
        .data(obs)
        .enter()
        .append("path")
        .attr("d", d => {
            let yy = y(d.z), x0 = x(d.u - d.s), x1 = x(d.u + d.s)
            return `M${x0},${yy}H${x1}M${x0},${yy - 3}V${yy + 3}M${x1},${yy - 3}V${yy + 3}`
        })

    // panel title sits over the bars
    g.append("text")
        .attr("x", 1)
        .attr("y", 19)
        .attr("font-size", "15px")
        .text(h)

    // model profiles
    seriesData.forEach((s, k) => {
        inner.append("path")
            .datum(modelHeights.map((z, j) => [s[i][j], z]))
            .attr("fill", "none")
            .attr("stroke", seriesColors[k])
            .attr("stroke-width", 1.8)
            .attr("d", line)
    })

    // observed means
    inner.append("g")
        .selectAll("circle")
        .data(obs)
        .enter()
        .append("circle")
        .attr("cx", d => x(d.u))
        .attr("cy", d => y(d.z))
        .attr("r", 3.2)
        .attr("fill", "#000")

    // ticks, drawn inwards
    let ax = g.append("g").attr("stroke-width", 0.8)
    ax.append("g")
        .call(d3.axisLeft(y).tickValues(yMajor).tickSize(-4.5).tickFormat(""))
    ax.append("g")
        .call(d3.axisLeft(y).tickValues(yMinor).tickSize(-2.5).tickFormat(""))
    ax.append("g")
        .attr("transform", `translate(0,${ph})`)
        .call(d3.axisBottom(x).tickValues(xTicks).tickSize(-4.5).tickFormat(""))
    ax.append("g")
        .attr("transform", `translate(0,${ph})`)
        .call(d3.axisBottom(x).tickValues(xMinor).tickSize(-2.5).tickFormat(""))
    ax.selectAll(".domain").remove()
    ax.selectAll("line").attr("stroke", "#000")

    g.append("rect")
        .attr("width", pw)
        .attr("height", ph)
        .attr("fill", "none")
        .attr("stroke", "#000")
        .attr("stroke-width", 1.2)

    if (col == 0) {
        yMajor.forEach(v => {
            let t = g.append("text")
                .attr("x", -11)
                .attr("y", y(v) + 6)
                .attr("text-anchor", "end")
                .attr("font-size", "18px")
            t.append("tspan").text("10")
            t.append("tspan")
                .attr("dy", -8)
                .attr("font-size", "12px")
                .text(Math.round(Math.log10(v)))
        })
        svg.append("text")
            .attr("transform", `translate(33,${rowTop[row] + ph / 2}) rotate(-90)`)
            .attr("text-anchor", "middle")
            .attr("font-size", "20px")
            .text("AGL (m)")
    }

    if (row == 1) {
        g.selectAll(".xlab")
            .data(xTicks)
            .enter()
            .append("text")
            .attr("class", "xlab")
            .attr("x", d => x(d))
            .attr("y", ph + 19)
            .attr("text-anchor", "middle")
            .attr("font-size", "17px")
            .text(d => d)
    }
})

// x axis title
let xt = svg.append("text")
    .attr("x", 717)
    .attr("y", 525)
    .attr("font-size", "20px")
xt.append("tspan").attr("font-style", "italic").text("U")
xt.append("tspan").text(" (m/s)")

// legend
let legend = svg.append("g")
legend.append("rect")
    .attr("x", 168.5)
    .attr("y", 531.5)
    .attr("width", 1026)
    .attr("height", 40)
    .attr("fill", "#fff")
    .attr("stroke", "#444")
    .attr("stroke-width", 1)

let legendX = [174, 403, 631, 875]
seriesNames.forEach((name, k) => {
    legend.append("line")
        .attr("x1", legendX[k]).attr("x2", legendX[k] + 52)
        .attr("y1", 546).attr("y2", 546)
        .attr("stroke", seriesColors[k])
        .attr("stroke-width", 1.8)
    legend.append("text")
        .attr("x", legendX[k] + 65)
        .attr("y", 552)
        .attr("font-size", "16px")
        .text(name)
})
legend.append("path")
    .attr("d", "M1105,546H1124M1105,543V549M1124,543V549")
    .attr("stroke", "#808080")
    .attr("stroke-width", 1.3)
legend.append("circle")
    .attr("cx", 1114.5).attr("cy", 546).attr("r", 3)
    .attr("fill", "#000")
legend.append("text")
    .attr("x", 1158)
    .attr("y", 552)
    .attr("font-size", "16px")
    .text("obs.")
</script>
</body>
</html>
